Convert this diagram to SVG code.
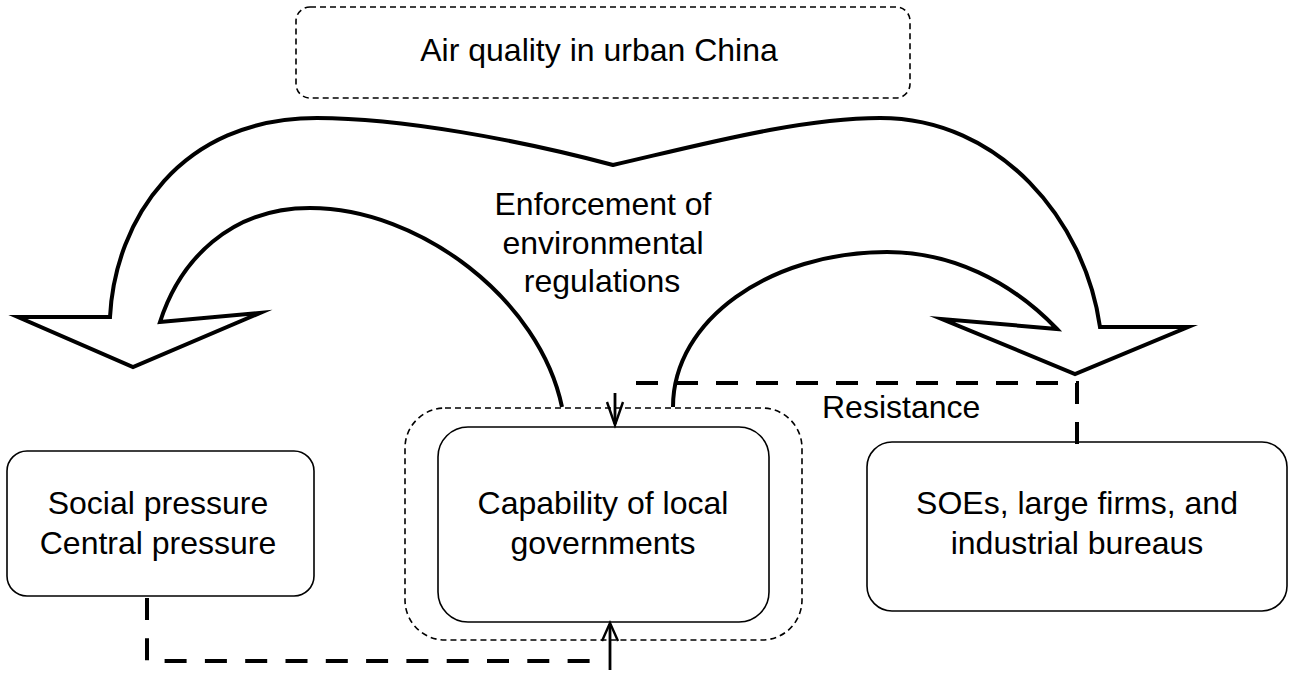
<svg xmlns="http://www.w3.org/2000/svg" width="1294" height="673" viewBox="0 0 1294 673">
<style>
text{font-family:"Liberation Sans",Arial,sans-serif;font-size:32px;fill:#000}
.box{fill:#fff;stroke:#000;stroke-width:1.6}
.dbox{fill:none;stroke:#000;stroke-width:1.6;stroke-dasharray:6 4}
.big{fill:none;stroke:#000;stroke-width:4;stroke-linejoin:miter;stroke-miterlimit:10}
.dash{fill:none;stroke:#000;stroke-width:4;stroke-dasharray:22 18}
.shaft{fill:none;stroke:#000;stroke-width:2.8}
.head{fill:none;stroke:#000;stroke-width:2.4}
</style>
<rect width="1294" height="673" fill="#fff"/>
<g id="node-air">
<rect class="dbox" x="296" y="7" width="614" height="91" rx="14"/>
<text x="599" y="61" text-anchor="middle">Air quality in urban China</text>
</g>
<g id="node-enforcement">
<path class="big" d="M673,407 C673,320 770,252 887,252 C950,252 1010,280 1057,329 L942,319 L1075,374 L1188,327 L1100,327 C1085,220 1000,118 880,118 C800,118 700,145 613,165 C520,140 400,118 317,118 C180,118 115,220 110,317 L18,317 L133,367 L260,313 L160,322 C180,260 230,208 310,208 C420,208 540,300 562,407"/>
<text x="603" y="215" text-anchor="middle">Enforcement of</text>
<text x="603" y="254" text-anchor="middle">environmental</text>
<text x="602" y="292" text-anchor="middle">regulations</text>
</g>
<g id="node-social">
<rect class="box" x="7" y="451" width="307" height="145" rx="20"/>
<text x="158" y="514" text-anchor="middle">Social pressure</text>
<text x="158" y="554" text-anchor="middle">Central pressure</text>
</g>
<g id="node-capability">
<rect class="dbox" x="405" y="408" width="397" height="232" rx="40"/>
<rect class="box" x="438" y="427" width="331" height="195" rx="30"/>
<text x="603" y="514" text-anchor="middle">Capability of local</text>
<text x="603" y="554" text-anchor="middle">governments</text>
</g>
<g id="node-soes">
<rect class="box" x="867" y="442" width="420" height="169" rx="25"/>
<text x="1077" y="514" text-anchor="middle">SOEs, large firms, and</text>
<text x="1077" y="554" text-anchor="middle">industrial bureaus</text>
</g>
<g id="connectors">
<path class="dash" d="M1077,444 V383 H625"/>
<path class="shaft" d="M615,393 V424"/>
<path class="head" d="M607,402 L615,425 L623,402"/>
<text x="822" y="418">Resistance</text>
<path class="dash" d="M147,598 V661 H592" style="stroke-dasharray:22 18.3"/>
<path class="shaft" d="M610,670 V624"/>
<path class="head" d="M602,641 L610,623 L618,641"/>
</g>
</svg>
